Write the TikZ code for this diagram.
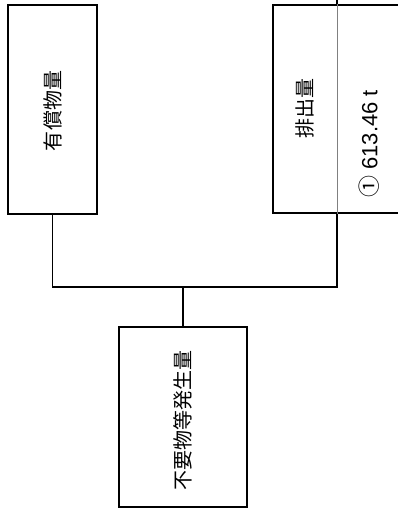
\documentclass[tikz,border=0pt]{standalone}
\usepackage{fontspec}
\setmainfont{Liberation Sans}
\newfontfamily\jp{Noto Sans CJK JP}
\usetikzlibrary{positioning}

\begin{document}
\begin{tikzpicture}[x=1pt,y=-1pt,font=\normalfont,
    box/.style={draw,line width=1.5pt,rectangle,inner sep=0pt},
    wire/.style={line width=1.5pt},
    label/.style={rotate=90,inner sep=0pt,font=\jp\fontsize{20}{20}\selectfont}]
        \useasboundingbox (0,0) rectangle (398,513);
        \clip (0,0) rectangle (398,513);
        \node[box,minimum width=89,minimum height=209] (yushou) at (52.5,109.5) {};
        \node[box,minimum width=220,minimum height=208] (haishutsu) at (383,109) {};
        \node[box,minimum width=128,minimum height=180] (fuyou) at (183,417) {};
        \node[label] (t1) at (53,111) {有償物量};
        \node[label] (t2) at (305,109) {排出量};
        \node[label,anchor=west,font=\fontsize{22}{22}\selectfont] (t3) at (369,198) {{\jp ①} 613.46 t};
        \node[label] (t4) at (183,420) {不要物等発生量};
        \coordinate (top) at (337,0);
        \coordinate (bunki) at (183,287);
        \draw[wire] (top) -- (haishutsu.north -| top);
        \draw[gray,line width=0.6pt] (haishutsu.north -| top) -- (haishutsu.south -| top);
        \draw[wire] (yushou.south) |- (bunki) -| (haishutsu.south -| top);
        \draw[wire] (bunki) -- (fuyou.north);
    \end{tikzpicture}
\end{document}
